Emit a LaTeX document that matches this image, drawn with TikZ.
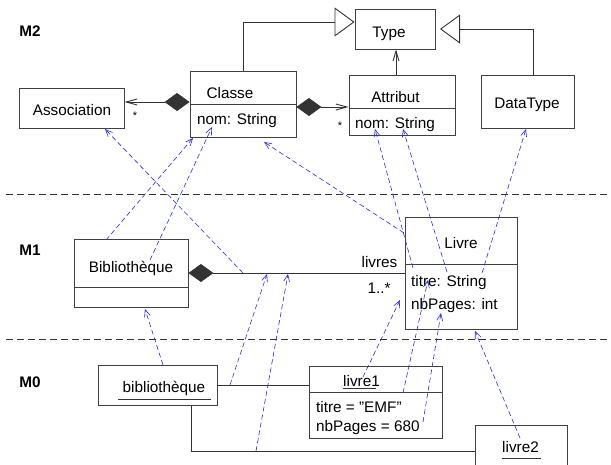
\documentclass[tikz,border=0pt]{standalone}
\usepackage{fontspec}
\setmainfont{Liberation Sans}
\usetikzlibrary{arrows.meta}
\definecolor{instblue}{RGB}{40,40,240}
\begin{document}
\begin{tikzpicture}[x=1pt,y=-1pt,
  box/.style={draw=black!75, line width=0.9pt, fill=white, inner sep=0pt},
  txt/.style={inner sep=0pt, font=\fontsize{15.3}{18}\selectfont},
  lbl/.style={txt, anchor=base},
  ltxt/.style={txt, anchor=base west},
  lev/.style={inner sep=0pt, anchor=base, font=\fontsize{15.3}{18}\selectfont\bfseries},
  sepline/.style={draw=black!80, line width=0.7pt, dash pattern=on 7pt off 4pt},
  link/.style={draw=black!80, line width=0.9pt},
  divline/.style={draw=black!75, line width=0.9pt},
  inst/.style={draw=instblue, line width=0.6pt, dash pattern=on 5pt off 3pt, -{Straight Barb[length=7pt,width=6pt]}},
  comp/.style={link, {Diamond[length=25pt,width=18pt]}-{Straight Barb[length=11pt,width=6pt]}},
  compn/.style={link, {Diamond[length=25pt,width=18pt]}-},
  gen/.style={link, -{Triangle[open,length=20pt,width=29pt,fill=white]}},
]
\useasboundingbox (0,0) rectangle (611,464);
\clip (0,0) rectangle (611,464);
\fill[white] (0,0) rectangle (611,464);

% separators
\coordinate (s1a) at (6,194); \coordinate (s1b) at (611,194);
\coordinate (s2a) at (6,339); \coordinate (s2b) at (611,339);
\draw[sepline] (s1a) -- (s1b);
\draw[sepline] (s2a) -- (s2b);

% level labels
\node[lev] (m2) at (30,36.5) {M2};
\node[lev] (m1) at (30,255) {M1};
\node[lev] (m0) at (30,387) {M0};

% M2 boxes
\node[box, minimum width=80pt, minimum height=40pt] (type) at (395,29) {};
\node[box, minimum width=106pt, minimum height=66pt] (classe) at (243,104) {};
\node[box, minimum width=105pt, minimum height=40pt] (assoc) at (71.5,108) {};
\node[box, minimum width=106pt, minimum height=60pt] (attr) at (402,105) {};
\node[box, minimum width=93pt, minimum height=53pt] (dtype) at (527.5,101.5) {};
\draw[divline] (classe.west |- 0,104) -- (classe.east |- 0,104);
\draw[divline] (attr.west |- 0,108) -- (attr.east |- 0,108);

\node[lbl] (typet) at (389,37) {Type};
\node[lbl] (classet) at (230,98) {Classe};
\node[ltxt] (classenom) at (197,124) {nom: String};
\node[lbl] (assoct) at (72,115) {Association};
\node[lbl] (attrt) at (395.5,102) {Attribut};
\node[ltxt] (attrnom) at (355,128) {nom: String};
\node[lbl] (dtypet) at (527,108) {DataType};
\node[txt, font=\fontsize{11}{12}\selectfont] (st1) at (135,116) {*};
\node[txt, font=\fontsize{11}{12}\selectfont] (st2) at (340,126) {*};

% M2 connectors
\coordinate (dtTip) at (440,29);
\draw[comp] (classe.west |- 0,102) -- (assoc.east |- 0,102);
\draw[comp] (classe.east |- 0,107) -- (attr.west |- 0,107);
\draw[link, -{Straight Barb[length=10pt,width=6pt]}] (attr.north -| 396,0) -- (type.south -| 396,0);
\draw[gen] (classe.north -| 243,0) |- (type.west |- 0,22);
\draw[gen] (dtype.north -| 533,0) |- (dtTip);

% M1 boxes
\node[box, minimum width=114pt, minimum height=68pt] (biblio) at (131,273) {};
\draw[divline] (biblio.west |- 0,287) -- (biblio.east |- 0,287);
\node[box, minimum width=112pt, minimum height=112pt] (livre) at (461,273) {};
\draw[divline] (livre.west |- 0,264) -- (livre.east |- 0,264);
\node[lbl] (bibliot) at (131,272) {Bibliothèque};
\node[lbl] (livret) at (461,248) {Livre};
\node[ltxt] (titre) at (411,286) {titre: String};
\node[ltxt] (nbp) at (411,309) {nbPages: int};
\node[lbl] (livres) at (379.5,267) {livres};
\node[lbl] (mult) at (379,293) {1..*};
\draw[compn] (biblio.east |- 0,273) -- (livre.west |- 0,273);

% M0 boxes
\node[box, minimum width=119pt, minimum height=40pt] (bib0) at (157.5,385) {};
\node[box, minimum width=133pt, minimum height=72pt] (livre1) at (375.5,402) {};
\draw[divline] (livre1.west |- 0,392) -- (livre1.east |- 0,392);
\node[box, minimum width=92pt, minimum height=50pt] (livre2) at (521,450) {};
\node[lbl] (bib0t) at (164,392) {bibliothèque};
\node[lbl] (livre1t) at (361.5,386) {livre1};
\node[ltxt] (emf) at (316,412) {titre = \char34 EMF\char34};
\node[ltxt] (p680) at (316,431.5) {nbPages = 680};
\node[lbl] (livre2t) at (520.5,452) {livre2};
\draw[black!80, line width=0.8pt] (118,399) -- (211,399);
\draw[black!80, line width=0.8pt] (343,388.5) -- (376,388.5);
\draw[black!80, line width=0.8pt] (501.5,458) -- (540.5,458);
\draw[link] (bib0.east |- 0,385) -- (livre1.west |- 0,385);
\draw[link] (bib0.south -| 191,0) |- (livre2.west |- 0,451);

% instance-of arrows
\coordinate (a1s) at (243,273); \coordinate (a1e) at (105,129);
\coordinate (a2s) at (106,240); \coordinate (a2e) at (193,138);
\coordinate (a3s) at (150,260); \coordinate (a3e) at (212,127);
\coordinate (a4s) at (404,233); \coordinate (a4e) at (264,142);
\coordinate (a5s) at (413,268); \coordinate (a5e) at (375,129);
\coordinate (a6s) at (447,272); \coordinate (a6e) at (403,129);
\coordinate (a7s) at (482,273); \coordinate (a7e) at (526,129);
\coordinate (a8s) at (163,365); \coordinate (a8e) at (145,309);
\coordinate (a9s) at (230,385); \coordinate (a9e) at (267,274);
\coordinate (a10s) at (256,451); \coordinate (a10e) at (288,274);
\coordinate (a11s) at (363,377); \coordinate (a11e) at (400,300);
\coordinate (a12s) at (403,393); \coordinate (a12e) at (428,280);
\coordinate (a13s) at (423,422); \coordinate (a13e) at (441,313);
\coordinate (a14s) at (520,438); \coordinate (a14e) at (475,331);
\foreach \i in {1,...,14} {\draw[inst] (a\i s) -- (a\i e);}
\end{tikzpicture}
\end{document}
